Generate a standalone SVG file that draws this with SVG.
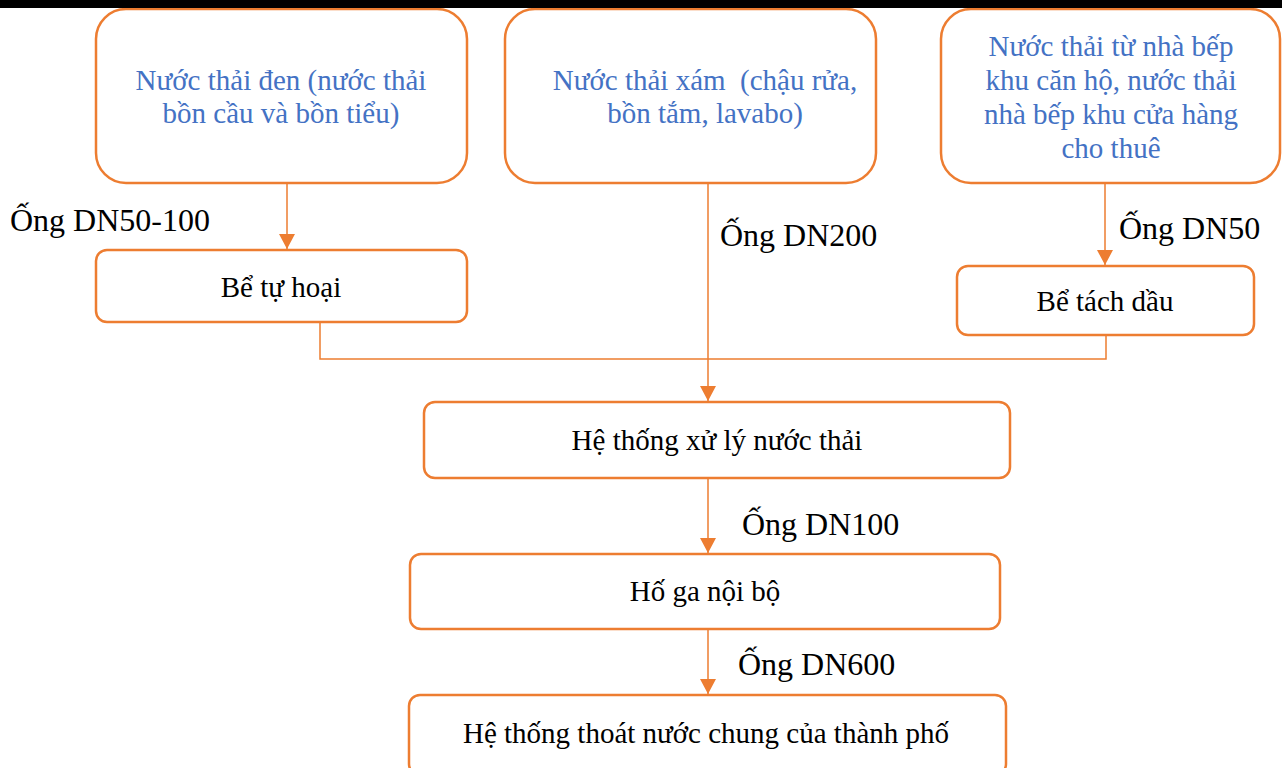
<svg xmlns="http://www.w3.org/2000/svg" width="1282" height="768" viewBox="0 0 1282 768">
  <style>
    .box { fill: #ffffff; stroke: #ED7D31; stroke-width: 2.5; }
    .src { font-family: "Liberation Serif", "Times New Roman", serif; font-size: 29px; fill: #4472C4; text-anchor: middle; }
    .lbl { font-family: "Liberation Serif", "Times New Roman", serif; font-size: 29px; fill: #000000; text-anchor: middle; }
    .pipe { font-family: "Liberation Serif", "Times New Roman", serif; font-size: 32px; fill: #000000; }
    .link { fill: none; stroke: #ED7D31; stroke-width: 1.5; }
  </style>
  <defs>
    <!-- arrowhead drawn along +x so orient="auto" turns it along the line -->
    <marker id="arrow" viewBox="0 0 15 16" refX="15" refY="8" markerWidth="15" markerHeight="16" markerUnits="userSpaceOnUse" orient="auto">
      <path d="M0,0 L15,8 L0,16 Z" fill="#ED7D31"/>
    </marker>
  </defs>

  <rect x="0" y="0" width="1282" height="768" fill="#ffffff"/>

  <!-- connectors -->
  <g id="connectors">
    <line class="link" x1="287" y1="183" x2="287" y2="249" marker-end="url(#arrow)"/>
    <line class="link" x1="708" y1="183" x2="708" y2="401" marker-end="url(#arrow)"/>
    <line class="link" x1="1105" y1="183" x2="1105" y2="265" marker-end="url(#arrow)"/>
    <polyline class="link" points="320,322 320,359 1106,359 1106,335"/>
    <line class="link" x1="708" y1="478" x2="708" y2="553" marker-end="url(#arrow)"/>
    <line class="link" x1="708" y1="629" x2="708" y2="694" marker-end="url(#arrow)"/>
  </g>

  <!-- source boxes -->
  <g id="black-water">
    <rect class="box" x="96" y="9" width="371" height="174" rx="30"/>
    <text class="src" x="281" y="90">Nước thải đen (nước thải</text>
    <text class="src" x="281" y="123">bồn cầu và bồn tiểu)</text>
  </g>
  <g id="grey-water">
    <rect class="box" x="505" y="9" width="371" height="174" rx="30"/>
    <text class="src" x="705" y="90" xml:space="preserve">Nước thải xám  (chậu rửa,</text>
    <text class="src" x="705" y="123">bồn tắm, lavabo)</text>
  </g>
  <g id="kitchen-water">
    <rect class="box" x="941" y="9" width="339" height="174" rx="30"/>
    <text class="src" x="1111" y="56">Nước thải từ nhà bếp</text>
    <text class="src" x="1111" y="90">khu căn hộ, nước thải</text>
    <text class="src" x="1111" y="124">nhà bếp khu cửa hàng</text>
    <text class="src" x="1111" y="158">cho thuê</text>
  </g>

  <!-- pipe labels -->
  <g id="pipe-labels">
    <text class="pipe" x="10" y="231">Ống DN50-100</text>
    <text class="pipe" x="720" y="246">Ống DN200</text>
    <text class="pipe" x="1119" y="239">Ống DN50</text>
    <text class="pipe" x="742" y="535">Ống DN100</text>
    <text class="pipe" x="738" y="675">Ống DN600</text>
  </g>

  <!-- treatment boxes -->
  <g id="septic-tank">
    <rect class="box" x="96" y="250" width="371" height="72" rx="11"/>
    <text class="lbl" x="281" y="297">Bể tự hoại</text>
  </g>
  <g id="grease-trap">
    <rect class="box" x="957" y="266" width="297" height="69" rx="11"/>
    <text class="lbl" x="1105" y="311">Bể tách dầu</text>
  </g>
  <g id="treatment-system">
    <rect class="box" x="424" y="402" width="586" height="76" rx="11"/>
    <text class="lbl" x="717" y="450">Hệ thống xử lý nước thải</text>
  </g>
  <g id="manhole">
    <rect class="box" x="410" y="554" width="590" height="75" rx="11"/>
    <text class="lbl" x="705" y="601">Hố ga nội bộ</text>
  </g>
  <g id="city-drainage">
    <rect class="box" x="409" y="695" width="597" height="80" rx="11"/>
    <text class="lbl" x="706" y="743">Hệ thống thoát nước chung của thành phố</text>
  </g>

  <!-- top rule -->
  <rect x="0" y="0" width="1282" height="8" fill="#000000"/>
</svg>
